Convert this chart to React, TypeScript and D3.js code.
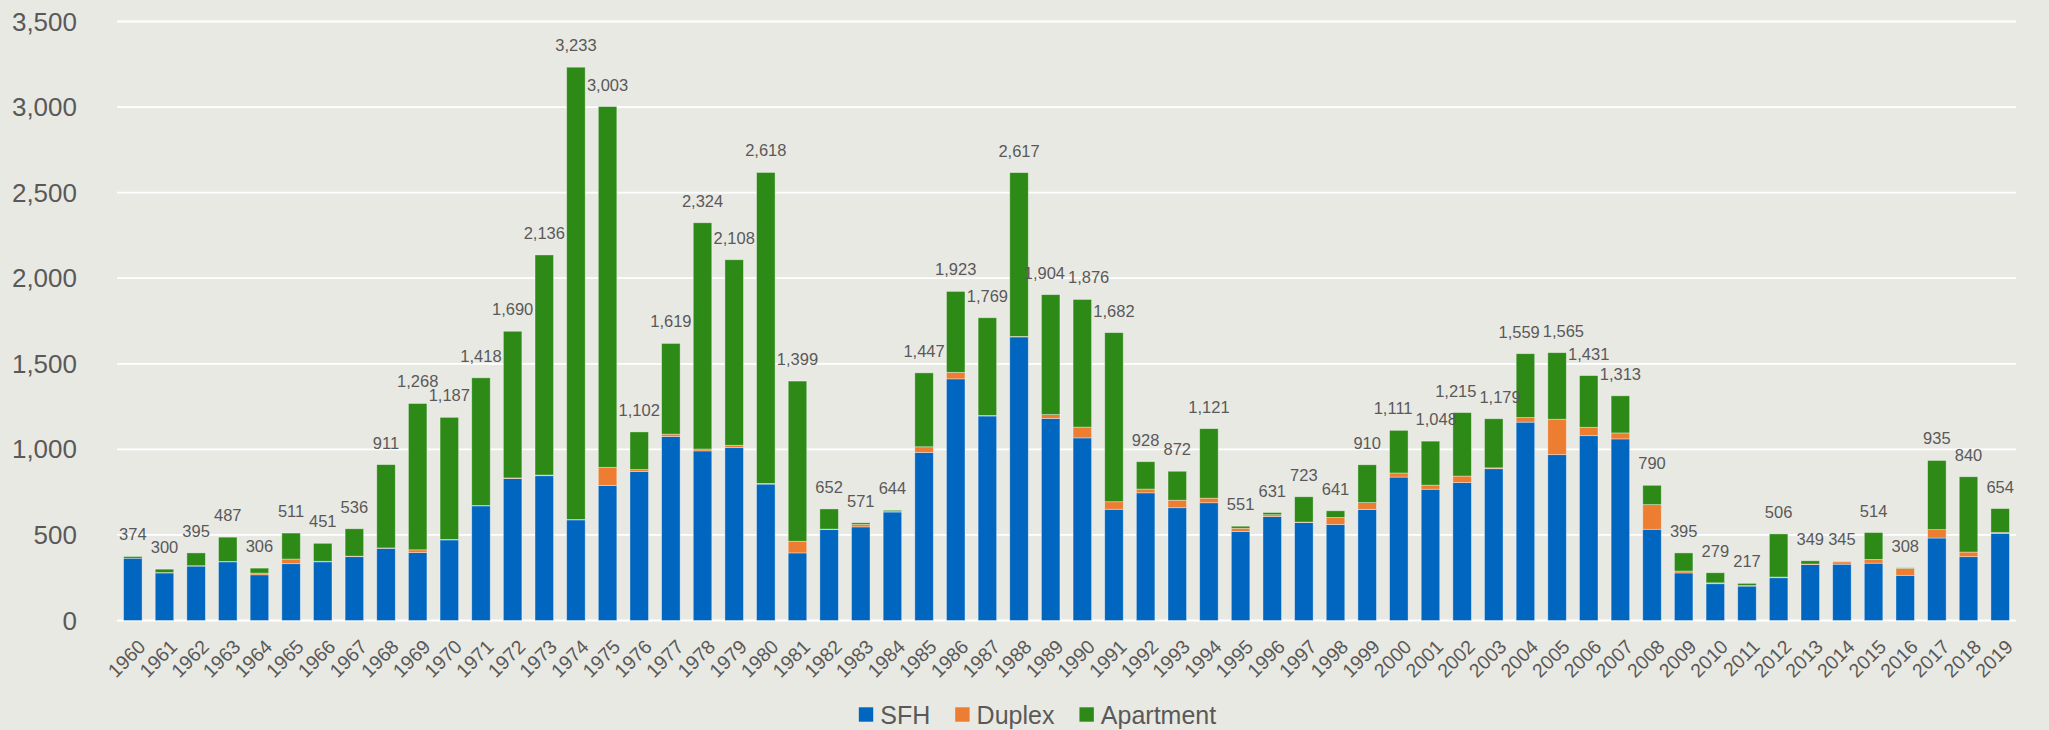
import React from "react";
import * as d3 from "d3";

const years = ["1960","1961","1962","1963","1964","1965","1966","1967","1968","1969","1970","1971","1972","1973","1974","1975","1976","1977","1978","1979","1980","1981","1982","1983","1984","1985","1986","1987","1988","1989","1990","1991","1992","1993","1994","1995","1996","1997","1998","1999","2000","2001","2002","2003","2004","2005","2006","2007","2008","2009","2010","2011","2012","2013","2014","2015","2016","2017","2018","2019"];

const totals = [374,300,395,487,306,511,451,536,911,1268,1187,1418,1690,2136,3233,3003,1102,1619,2324,2108,2618,1399,652,571,644,1447,1923,1769,2617,1904,1876,1682,928,872,1121,551,631,723,641,910,1111,1048,1215,1179,1559,1565,1431,1313,790,395,279,217,506,349,345,514,308,935,840,654];

const sfh = [364,278,318,343,267,332,343,373,422,397,471,670,830,846,588,789,871,1075,991,1010,797,395,531,547,634,982,1412,1195,1657,1181,1067,650,746,659,688,520,607,572,561,648,838,767,806,887,1159,969,1080,1061,533,278,215,201,250,327,329,335,264,482,373,509];

const duplex = [0,2,2,2,10,27,3,3,2,16,3,2,3,4,2,106,11,14,11,14,4,68,3,14,2,33,38,3,3,22,63,44,22,44,27,19,11,3,41,41,24,24,38,5,27,207,49,35,144,11,5,3,4,3,14,22,41,49,27,5];

const apartment = [10,20,75,142,29,152,105,160,487,855,713,746,857,1286,2643,2108,220,530,1322,1084,1817,936,118,10,8,432,473,571,957,701,746,988,160,169,406,12,13,148,39,221,249,257,371,287,373,389,302,217,113,106,59,13,252,19,2,157,3,404,440,140];

const seriesNames = ["SFH", "Duplex", "Apartment"];
const seriesColors = ["#0066C0", "#ED7D31", "#2E8A17"];
const yTicks = [0, 500, 1000, 1500, 2000, 2500, 3000, 3500];

const W = 2049;
const H = 730;
const FONT = "'Liberation Sans', Arial, Helvetica, sans-serif";
const TEXT = "#595959";

let measureCtx: CanvasRenderingContext2D | null = null;
function measure(text: string, size: number): number {
  if (typeof document === "undefined") return text.length * size * 0.55;
  if (!measureCtx) {
    const c = document.createElement("canvas");
    measureCtx = c.getContext("2d");
  }
  if (!measureCtx) return text.length * size * 0.55;
  measureCtx.font = `${size}px 'Liberation Sans', Arial, sans-serif`;
  return measureCtx.measureText(text).width;
}

export default function App() {
  const x = d3.scaleBand<string>().domain(years).range([117, 2016]).paddingInner(0.415).paddingOuter(0.2075);
  const y = d3.scaleLinear().domain([0, 3500]).range([620.5, 21.5]);
  const fmt = d3.format(",");

  const rows = years.map((yr, i) => ({ year: yr, SFH: sfh[i], Duplex: duplex[i], Apartment: apartment[i] }));
  const stacked = d3.stack<any>().keys(seriesNames)(rows);

  // total labels with simple horizontal collision relaxation
  const labelFont = 16.5;
  const labelH = 13;
  const labels = years.map((yr, i) => {
    const text = fmt(totals[i]);
    return {
      text,
      cx: (x(yr) as number) + x.bandwidth() / 2,
      cy: y(totals[i]) - 22,
      w: measure(text, labelFont) + 3,
    };
  });
  for (let iter = 0; iter < 60; iter++) {
    let moved = false;
    for (let i = 0; i < labels.length; i++) {
      for (let j = i + 1; j < Math.min(labels.length, i + 4); j++) {
        const a = labels[i];
        const b = labels[j];
        const ox = (a.w + b.w) / 2 - (b.cx - a.cx);
        const oy = labelH - Math.abs(b.cy - a.cy);
        if (ox > 0.01 && oy > 0) {
          a.cx -= ox / 2;
          b.cx += ox / 2;
          moved = true;
        }
      }
    }
    if (!moved) break;
  }

  // legend layout
  const legendFont = 25;
  const sq = 14.4;
  const gapText = 7;
  const gapItem = 25;
  const widths = seriesNames.map((n) => measure(n, legendFont));
  const totalW = widths.reduce((a, w) => a + sq + gapText + w, 0) + gapItem * (seriesNames.length - 1);
  let lx = 1037.5 - totalW / 2;
  const legendItems = seriesNames.map((n, i) => {
    const item = { name: n, color: seriesColors[i], x: lx };
    lx += sq + gapText + widths[i] + gapItem;
    return item;
  });
  const legendY = 714.5;

  return (
    <svg width={W} height={H} style={{ position: "absolute", left: 0, top: 0, display: "block" }} fontFamily={FONT}>
      <rect x={0} y={0} width={W} height={H} fill="#E9E9E4" />
      {yTicks.map((t) => (
        <g key={t}>
          <line x1={117} x2={2016} y1={y(t)} y2={y(t)} stroke="#FFFFFF" strokeWidth={1.8} />
          <text x={77} y={y(t)} textAnchor="end" dominantBaseline="central" fontSize={26} fill={TEXT}>
            {fmt(t)}
          </text>
        </g>
      ))}
      {stacked.map((s, si) => (
        <g key={s.key} fill={seriesColors[si]}>
          {s.map((d, i) => {
            const h = y(d[0]) - y(d[1]);
            if (h <= 0) return null;
            return (
              <rect
                key={i}
                x={x(years[i])}
                y={y(d[1])}
                width={x.bandwidth()}
                height={h}
                stroke="rgba(255,255,255,0.45)"
                strokeWidth={0.8}
              />
            );
          })}
        </g>
      ))}
      {labels.map((l, i) => (
        <text
          key={"l" + i}
          x={l.cx}
          y={l.cy}
          textAnchor="middle"
          dominantBaseline="central"
          fontSize={labelFont}
          fill={TEXT}
        >
          {l.text}
        </text>
      ))}
      {years.map((yr) => {
        const cx = (x(yr) as number) + x.bandwidth() / 2;
        return (
          <text
            key={"x" + yr}
            transform={`translate(${cx + 9},${643}) rotate(-45)`}
            textAnchor="end"
            dominantBaseline="central"
            fontSize={19.5}
            fill={TEXT}
          >
            {yr}
          </text>
        );
      })}
      {legendItems.map((it) => (
        <g key={it.name}>
          <rect x={it.x} y={legendY - sq / 2} width={sq} height={sq} fill={it.color} />
          <text x={it.x + sq + gapText} y={legendY} dominantBaseline="central" fontSize={legendFont} fill={TEXT}>
            {it.name}
          </text>
        </g>
      ))}
    </svg>
  );
}
